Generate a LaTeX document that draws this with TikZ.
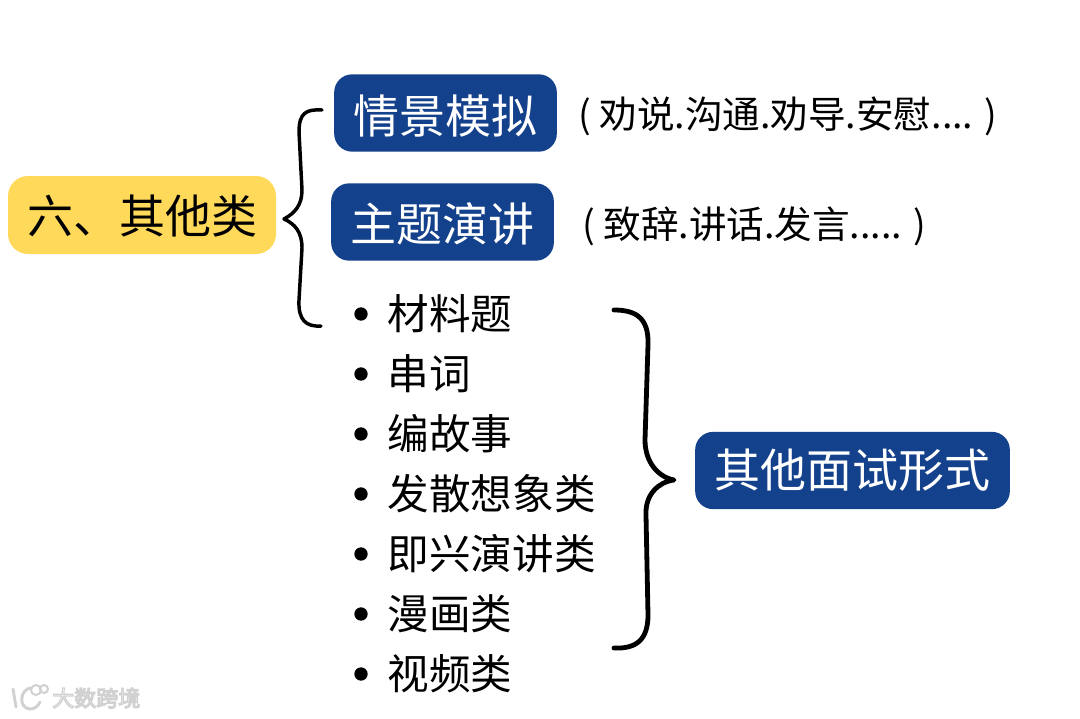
\documentclass[tikz,border=0pt]{standalone}
\usepackage{fontspec}
\setmainfont{Noto Sans CJK SC}
\usetikzlibrary{positioning}
\definecolor{navy}{HTML}{14418B}
\definecolor{sun}{HTML}{FFD95A}
\newcommand{\fs}[1]{\fontsize{#1}{#1}\selectfont}
\newcommand{\halo}[1]{\special{pdf:literal direct 2 Tr 0.82 0.82 0.82 RG 1 1 1 rg 0.9 w}#1\special{pdf:literal direct 0 Tr}}
\tikzset{
  x=0.75pt,y=-0.75pt,
  bluebox/.style={fill=navy,rounded corners=13.5pt,text=white,inner sep=0pt,minimum height=58pt,text depth=4pt,font=\fs{34.5}},
  yellowbox/.style={fill=sun,rounded corners=15pt,text=black,inner sep=0pt,minimum height=58.5pt,minimum width=201pt,text height=31.8pt,text depth=4pt,font=\fs{34.5}},
  listitem/.style={anchor=west,inner sep=0pt,font=\fs{31.2}},
  note/.style={anchor=west,inner sep=0pt,font=\fs{28.2}},
  dot/.style={circle,fill=black,inner sep=0pt,minimum size=10pt},
  bracethin/.style={draw=black,line width=2.6pt,line cap=round,line join=round},
  bracethick/.style={draw=black,line width=3.6pt,line cap=round,line join=round},
  wmline/.style={draw=black!18,line width=2.2pt,line cap=round},
}
\begin{document}
\begin{tikzpicture}
\useasboundingbox (0,0) rectangle (1080,718);
\fill[white] (0,0) rectangle (1080,718);

\node[yellowbox] (root) at (142,215) {六、其他类};
\node[bluebox,minimum width=167pt,text height=34pt] (a) at (445.5,113) {情景模拟};
\node[bluebox,minimum width=167pt,text height=33.2pt] (b) at (442.5,222) {主题演讲};
\node[bluebox,minimum width=236pt,text height=30.2pt] (c) at (852.5,470.5) {其他面试形式};

\node[note] (na) at (578,116) {( 劝说.沟通.劝导.安慰.... )};
\node[note] (nb) at (582,226) {( 致辞.讲话.发言..... )};

\foreach \n/\y/\t in {i1/314/材料题,i2/374/串词,i3/434/编故事,i4/494/发散想象类,i5/554/即兴演讲类,i6/614/漫画类,i7/674/视频类}{
  \node[dot] (d\n) at (361,\y) {};
  \node[listitem] (\n) at (387.5,\y) {\t};
}

% left brace
\coordinate (lt) at (322,110);
\coordinate (lb) at (321,326);
\coordinate (ltip) at (284,219);
\draw[bracethin] (lt) .. controls (306,109) and (299,113) .. (299,132)
  -- (302,190) .. controls (302,205) and (295,213) .. (ltip)
  .. controls (295,224) and (302,232) .. (302,248)
  -- (299,300) .. controls (298,320) and (306,327) .. (lb);

% right brace
\coordinate (rt) at (614,310);
\coordinate (rb) at (614,648);
\coordinate (rtip) at (674,480);
\draw[bracethick] (rt) .. controls (636,310) and (649,318) .. (648,345)
  -- (645,440) .. controls (645,462) and (658,477) .. (rtip)
  .. controls (658,482) and (645,495) .. (646,515)
  -- (648,615) .. controls (648,640) and (636,649) .. (rb);

% watermark
\draw[wmline] (13,689) -- (16,707);
\draw[wmline] (30,688) .. controls (20,690) and (18,708) .. (30,709) .. controls (35,709) and (38,706) .. (40,702);
\draw[wmline,line width=1.5pt] (36,690) circle[radius=5];
\draw[wmline,line width=1.5pt] (44,689) circle[radius=4];
\node[anchor=west,inner sep=0pt,font=\fs{16.5}] (wm) at (52,698) {\halo{大数跨境}};
\end{tikzpicture}
\end{document}
